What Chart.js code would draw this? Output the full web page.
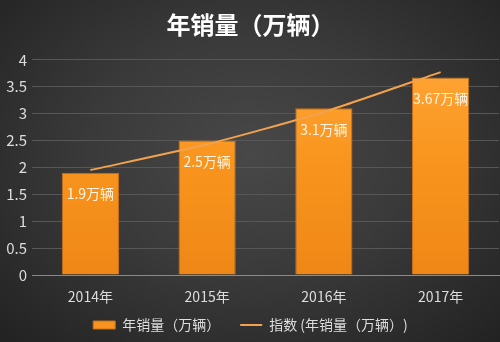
<!DOCTYPE html>
<html>
<head>
<meta charset="utf-8">
<script src="https://cdn.jsdelivr.net/npm/chart.js@4"></script>
<style>
  html, body { margin: 0; padding: 0; }
  body {
    width: 500px; height: 342px;
    background: radial-gradient(ellipse at 50% 45%, #484848 0%, #3a3a3a 45%, #222 100%);
  }
  canvas { display: block; }
</style>
</head>
<body>
<canvas id="canvas" width="500" height="342"></canvas>
<script>
const years = ['2014年', '2015年', '2016年', '2017年']
const sales = [1.9, 2.5, 3.1, 3.67]
const trend = [1.95, 2.43, 3.03, 3.77]
const yTicks = [0, 0.5, 1, 1.5, 2, 2.5, 3, 3.5, 4]

const FONT = "'Noto Sans CJK SC', 'Noto Sans', sans-serif"
const ctx = document.getElementById('canvas').getContext('2d')

// orange bar fill, a bit lighter at the top
const barFill = (c) => {
  const area = c.chart.chartArea
  if (!area) return '#f7931e'
  const g = c.chart.ctx.createLinearGradient(0, area.top, 0, area.bottom)
  g.addColorStop(0, '#ffa535')
  g.addColorStop(0.5, '#f8941d')
  g.addColorStop(1, '#ef8716')
  return g
}

// value labels inside the top of each bar
const barLabels = {
  id: 'barLabels',
  afterDatasetsDraw(chart) {
    const meta = chart.getDatasetMeta(0)
    const c = chart.ctx
    c.save()
    c.font = '14px ' + FONT
    c.fillStyle = '#fff4e0'
    c.textAlign = 'center'
    c.textBaseline = 'middle'
    meta.data.forEach((bar, i) => {
      c.fillText(sales[i] + '万辆', bar.x, bar.y + 21)
    })
    c.restore()
  }
}

// x axis is kept short for layout, but its labels hang lower -> don't clip them
const unclipX = {
  id: 'unclipX',
  afterLayout(chart) {
    chart.scales.x.bottom = chart.height
  }
}

new Chart(ctx, {
  type: 'bar',
  data: {
    labels: years,
    datasets: [{
      label: '年销量（万辆）',
      data: sales,
      backgroundColor: barFill,
      borderColor: '#c8701a',
      borderWidth: 1,
      categoryPercentage: 1,
      barPercentage: 0.49,
      order: 2
    }, {
      type: 'line',
      label: '指数 (年销量（万辆）)',
      data: trend,
      borderColor: '#f2a24e',
      backgroundColor: '#f2a24e',
      borderWidth: 2,
      pointRadius: 0,
      tension: 0.2,
      order: 1
    }]
  },
  options: {
    responsive: false,
    animation: false,
    devicePixelRatio: 1,
    layout: { padding: { left: 2, right: 1, top: 4, bottom: 0 } },
    plugins: {
      title: {
        display: true,
        text: '年销量（万辆）',
        color: '#ffffff',
        font: { family: FONT, size: 24, weight: 'bold' },
        padding: { top: 6, bottom: 21 }
      },
      legend: {
        position: 'bottom',
        labels: {
          color: '#dddddd',
          font: { family: FONT, size: 14 },
          usePointStyle: true,
          pointStyleWidth: 22,
          boxHeight: 8,
          padding: 20,
          generateLabels(chart) {
            return chart.data.datasets.map((ds, i) => ({
              text: ds.label,
              fillStyle: i === 0 ? '#f7931e' : '#f2a24e',
              strokeStyle: i === 0 ? '#c8701a' : '#f2a24e',
              lineWidth: i === 0 ? 1 : 2,
              pointStyle: i === 0 ? 'rect' : 'line',
              fontColor: '#dddddd',
              datasetIndex: i
            }))
          }
        }
      },
      tooltip: { enabled: false }
    },
    scales: {
      x: {
        afterFit(scale) { scale.height = 23 },
        grid: { display: false, drawTicks: false },
        border: { color: '#8a8a8a', width: 1 },
        ticks: { color: '#dddddd', font: { family: FONT, size: 14 }, padding: 13 }
      },
      y: {
        min: 0,
        max: 4,
        afterFit(scale) { scale.width = 30 },
        afterBuildTicks(scale) { scale.ticks = yTicks.map(v => ({ value: v })) },
        grid: { color: '#575757', lineWidth: 1, drawTicks: false },
        border: { display: false },
        ticks: {
          color: '#dddddd',
          font: { family: FONT, size: 15 },
          padding: 5,
          callback: (v) => String(v)
        }
      }
    }
  },
  plugins: [barLabels, unclipX]
})
</script>
</body>
</html>
